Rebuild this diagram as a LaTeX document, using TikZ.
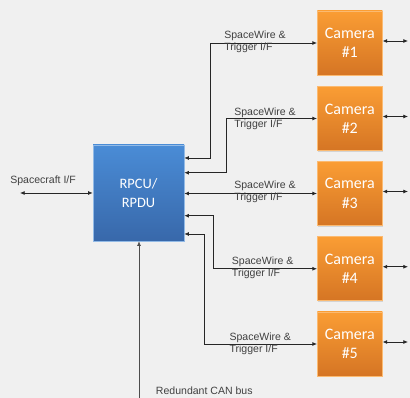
\documentclass[tikz,border=0pt]{standalone}
\usepackage{fontspec}
\setmainfont{Liberation Sans}
\newfontfamily\boxfont{Carlito}
\usepackage{tikz}
\usetikzlibrary{arrows.meta,shadows}

\definecolor{bggray}{RGB}{240,240,240}
\definecolor{camtop}{RGB}{250,157,52}
\definecolor{cambot}{RGB}{213,117,36}
\definecolor{rpcutop}{RGB}{74,140,214}
\definecolor{rpcubot}{RGB}{56,104,170}

\begin{document}
\begin{tikzpicture}[x=0.75pt,y=-0.75pt,
	link/.style={{Latex[length=3.5pt,width=3pt]}-{Latex[length=3.5pt,width=3pt]}, black!85, line width=0.6pt},
	uplink/.style={-{Latex[length=3.5pt,width=3pt]}, black!70, line width=0.6pt},
	lbl/.style={inner sep=0pt, anchor=west, align=left, text=black!75, font=\fontsize{7.9}{9}\selectfont},
	cam/.style={draw=camtop!70!white, top color=camtop, bottom color=cambot, minimum width=48.75pt, minimum height=48pt, inner sep=0pt, align=center, text=white, font=\boxfont\fontsize{12}{14.5}\selectfont, drop shadow={shadow xshift=0.8pt, shadow yshift=-0.8pt, opacity=0.25}},
	unit/.style={draw=rpcutop!60!white, top color=rpcutop, bottom color=rpcubot, minimum width=68.25pt, minimum height=72pt, inner sep=0pt, align=center, text=white, font=\boxfont\fontsize{10.8}{14}\selectfont, drop shadow={shadow xshift=0.8pt, shadow yshift=-0.8pt, opacity=0.25}}]

\useasboundingbox[fill=bggray] (0,0) rectangle (410,398);

\node[unit] (rpcu) at (138.5,193) {RPCU/\\RPDU};

\foreach \k/\y in {1/43,2/118.5,3/193.5,4/268.75,5/344}{
	\node[cam] (cam\k) at (349.8,\y) {Camera\\\#\k};
	\coordinate (out\k) at (408,\y-2);
	\draw[link] (cam\k.east |- out\k) -- (out\k);
}

\draw[link] (rpcu.east |- 0,158) -- (210,158) |- (cam1.west);
\draw[link] (rpcu.east |- 0,172.7) -- (226.7,172.7) |- (cam2.west);
\draw[link] (rpcu.east |- cam3.west) -- (cam3.west);
\draw[link] (rpcu.east |- 0,215.7) -- (213.3,215.7) |- (cam4.west);
\draw[link] (rpcu.east |- 0,234) -- (204.3,234) |- (cam5.west);

\node[lbl] (sw1) at (224,42) {SpaceWire \&\\Trigger I/F};
\node[lbl] (sw2) at (234,118.4) {SpaceWire \&\\Trigger I/F};
\node[lbl] (sw3) at (234,191.7) {SpaceWire \&\\Trigger I/F};
\node[lbl] (sw4) at (231.7,267.4) {SpaceWire \&\\Trigger I/F};
\node[lbl] (sw5) at (229.3,343.3) {SpaceWire \&\\Trigger I/F};

\coordinate (sc) at (20,193);
\draw[link] (sc) -- (rpcu.west);
\node[lbl] (sclbl) at (10,181) {Spacecraft I/F};

\coordinate (can) at (139,398);
\draw[uplink] (can) -- (can |- rpcu.south);
\node[lbl] (canlbl) at (155.7,390.7) {Redundant CAN bus};

\end{tikzpicture}
\end{document}
